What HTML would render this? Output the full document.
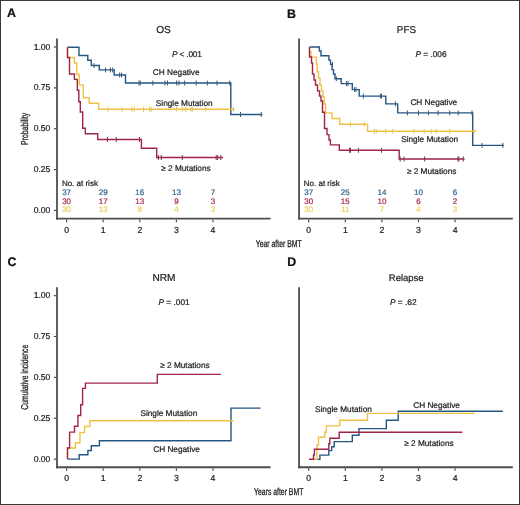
<!DOCTYPE html>
<html><head><meta charset="utf-8"><style>
html,body{margin:0;padding:0;background:#fff;}
body{width:520px;height:505px;overflow:hidden;}
svg{display:block;font-family:"Liberation Sans",sans-serif;text-rendering:geometricPrecision;will-change:transform;}
</style></head><body>
<svg width="520" height="505" viewBox="0 0 520 505">
<rect width="520" height="505" fill="#fff"/>
<rect x="0.5" y="0.5" width="519" height="504" fill="none" stroke="#3a3a3a" stroke-width="1"/>
<path d="M57,38.5V219.5" stroke="#4e4e4e" stroke-width="1.8" fill="none"/>
<path d="M56,218.6H270.6" stroke="#4e4e4e" stroke-width="1.8" fill="none"/>
<path d="M66.60,219.5V222.2" stroke="#4e4e4e" stroke-width="1.2" fill="none"/>
<text x="66.60" y="232.70" font-size="8.7" text-anchor="middle" font-weight="normal" fill="#222222" stroke="#222222" stroke-width="0.22" >0</text>
<path d="M103.20,219.5V222.2" stroke="#4e4e4e" stroke-width="1.2" fill="none"/>
<text x="103.20" y="232.70" font-size="8.7" text-anchor="middle" font-weight="normal" fill="#222222" stroke="#222222" stroke-width="0.22" >1</text>
<path d="M139.80,219.5V222.2" stroke="#4e4e4e" stroke-width="1.2" fill="none"/>
<text x="139.80" y="232.70" font-size="8.7" text-anchor="middle" font-weight="normal" fill="#222222" stroke="#222222" stroke-width="0.22" >2</text>
<path d="M176.40,219.5V222.2" stroke="#4e4e4e" stroke-width="1.2" fill="none"/>
<text x="176.40" y="232.70" font-size="8.7" text-anchor="middle" font-weight="normal" fill="#222222" stroke="#222222" stroke-width="0.22" >3</text>
<path d="M213.00,219.5V222.2" stroke="#4e4e4e" stroke-width="1.2" fill="none"/>
<text x="213.00" y="232.70" font-size="8.7" text-anchor="middle" font-weight="normal" fill="#222222" stroke="#222222" stroke-width="0.22" >4</text>
<path d="M53.8,47.00H56" stroke="#4e4e4e" stroke-width="1.2" fill="none"/>
<text x="50.4" y="49.50" font-size="8.6" text-anchor="end" font-weight="normal" fill="#222222" stroke="#222222" stroke-width="0.22" >1.00</text>
<path d="M53.8,87.87H56" stroke="#4e4e4e" stroke-width="1.2" fill="none"/>
<text x="50.4" y="90.37" font-size="8.6" text-anchor="end" font-weight="normal" fill="#222222" stroke="#222222" stroke-width="0.22" >0.75</text>
<path d="M53.8,128.74H56" stroke="#4e4e4e" stroke-width="1.2" fill="none"/>
<text x="50.4" y="131.24" font-size="8.6" text-anchor="end" font-weight="normal" fill="#222222" stroke="#222222" stroke-width="0.22" >0.50</text>
<path d="M53.8,169.61H56" stroke="#4e4e4e" stroke-width="1.2" fill="none"/>
<text x="50.4" y="172.11" font-size="8.6" text-anchor="end" font-weight="normal" fill="#222222" stroke="#222222" stroke-width="0.22" >0.25</text>
<path d="M53.8,210.48H56" stroke="#4e4e4e" stroke-width="1.2" fill="none"/>
<text x="50.4" y="212.98" font-size="8.6" text-anchor="end" font-weight="normal" fill="#222222" stroke="#222222" stroke-width="0.22" >0.00</text>
<text x="7.0" y="17.4" font-size="12.4" text-anchor="start" font-weight="bold" fill="#111" stroke="#111" stroke-width="0.22" >A</text>
<text x="156.2" y="32.6" font-size="10.1" text-anchor="start" font-weight="normal" fill="#222222" stroke="#222222" stroke-width="0.22" >OS</text>
<text x="172.1" y="57.1" font-size="8.3" text-anchor="start" font-weight="normal" fill="#222222" stroke="#222222" stroke-width="0.22" letter-spacing="-0.2"><tspan font-style="italic">P</tspan> &lt; .001</text>
<text x="152.8" y="74.5" font-size="8.25" text-anchor="start" font-weight="normal" fill="#222222" stroke="#222222" stroke-width="0.22" >CH Negative</text>
<text x="155.8" y="105.8" font-size="8.25" text-anchor="start" font-weight="normal" fill="#222222" stroke="#222222" stroke-width="0.22" >Single Mutation</text>
<text x="161.2" y="170.8" font-size="8.25" text-anchor="start" font-weight="normal" fill="#222222" stroke="#222222" stroke-width="0.22" >≥ 2 Mutations</text>
<text x="61.9" y="185.8" font-size="8" text-anchor="start" font-weight="normal" fill="#222222" stroke="#222222" stroke-width="0.22" >No. at risk</text>
<text x="66.60" y="195" font-size="8" text-anchor="middle" font-weight="normal" fill="#34668f" stroke="#34668f" stroke-width="0.22" >37</text>
<text x="103.20" y="195" font-size="8" text-anchor="middle" font-weight="normal" fill="#34668f" stroke="#34668f" stroke-width="0.22" >29</text>
<text x="139.80" y="195" font-size="8" text-anchor="middle" font-weight="normal" fill="#34668f" stroke="#34668f" stroke-width="0.22" >16</text>
<text x="176.40" y="195" font-size="8" text-anchor="middle" font-weight="normal" fill="#34668f" stroke="#34668f" stroke-width="0.22" >13</text>
<text x="213.00" y="195" font-size="8" text-anchor="middle" font-weight="normal" fill="#34668f" stroke="#34668f" stroke-width="0.22" >7</text>
<text x="66.60" y="203.5" font-size="8" text-anchor="middle" font-weight="normal" fill="#a82c4c" stroke="#a82c4c" stroke-width="0.22" >30</text>
<text x="103.20" y="203.5" font-size="8" text-anchor="middle" font-weight="normal" fill="#a82c4c" stroke="#a82c4c" stroke-width="0.22" >17</text>
<text x="139.80" y="203.5" font-size="8" text-anchor="middle" font-weight="normal" fill="#a82c4c" stroke="#a82c4c" stroke-width="0.22" >13</text>
<text x="176.40" y="203.5" font-size="8" text-anchor="middle" font-weight="normal" fill="#a82c4c" stroke="#a82c4c" stroke-width="0.22" >9</text>
<text x="213.00" y="203.5" font-size="8" text-anchor="middle" font-weight="normal" fill="#a82c4c" stroke="#a82c4c" stroke-width="0.22" >3</text>
<text x="66.60" y="211.9" font-size="8" text-anchor="middle" font-weight="normal" fill="#eccf5c" stroke="#eccf5c" stroke-width="0.22" >30</text>
<text x="103.20" y="211.9" font-size="8" text-anchor="middle" font-weight="normal" fill="#eccf5c" stroke="#eccf5c" stroke-width="0.22" >13</text>
<text x="139.80" y="211.9" font-size="8" text-anchor="middle" font-weight="normal" fill="#eccf5c" stroke="#eccf5c" stroke-width="0.22" >8</text>
<text x="176.40" y="211.9" font-size="8" text-anchor="middle" font-weight="normal" fill="#eccf5c" stroke="#eccf5c" stroke-width="0.22" >4</text>
<text x="213.00" y="211.9" font-size="8" text-anchor="middle" font-weight="normal" fill="#eccf5c" stroke="#eccf5c" stroke-width="0.22" >3</text>
<text transform="translate(27.9,128.9) rotate(-90) scale(0.685,1)" x="0" y="0" font-size="10" text-anchor="middle" fill="#222222" stroke="#222222" stroke-width="0.3">Probability</text>
<text transform="translate(278.7,246.6) scale(0.685,1)" x="0" y="0" font-size="10" text-anchor="middle" fill="#222222" stroke="#222222" stroke-width="0.3">Year after BMT</text>
<path d="M67.5,47.3H79V55.5H87.8V60.2H91.3V65.5H99.3V69.9H114.2V75H125.5V83H230.8V114.5H262.5" fill="none" stroke="#245684" stroke-width="1.4" stroke-linejoin="miter" stroke-linecap="butt"/>
<path d="M94.1,63.00V68.00" stroke="#3a5a7a" stroke-width="1.0" fill="none"/>
<path d="M105.5,67.40V72.40 M110.4,67.40V72.40 M112.7,67.40V72.40" stroke="#3a5a7a" stroke-width="1.0" fill="none"/>
<path d="M119.6,72.50V77.50 M121.5,72.50V77.50" stroke="#3a5a7a" stroke-width="1.0" fill="none"/>
<path d="M139,80.50V85.50 M140.2,80.50V85.50 M152.8,80.50V85.50 M165,80.50V85.50 M167.5,80.50V85.50 M176.6,80.50V85.50 M178.9,80.50V85.50 M184.6,80.50V85.50 M196.2,80.50V85.50 M207.3,80.50V85.50 M217,80.50V85.50 M229.7,80.50V85.50" stroke="#3a5a7a" stroke-width="1.0" fill="none"/>
<path d="M240.5,112.00V117.00 M261.2,112.00V117.00" stroke="#3a5a7a" stroke-width="1.0" fill="none"/>
<path d="M67.5,47.3V57.5H74.3V63H76.8V74.5H79.3V84.9H83.3V97.7H89.2V103.2H98.6V109.3H234.5" fill="none" stroke="#f0c244" stroke-width="1.4" stroke-linejoin="miter" stroke-linecap="butt"/>
<path d="M108,106.80V111.80 M121.9,106.80V111.80 M131.9,106.80V111.80 M134.2,106.80V111.80 M143.5,106.80V111.80 M149.6,106.80V111.80 M151.2,106.80V111.80 M176.6,106.80V111.80 M182.3,106.80V111.80 M185.8,106.80V111.80 M191.1,106.80V111.80 M192.7,106.80V111.80 M205.4,106.80V111.80 M233.5,106.80V111.80" stroke="#e6c258" stroke-width="1.0" fill="none"/>
<path d="M67.5,47.3V57.5H69.5V74H74.4V79.4H77.3V90.3H78.8V101.7H80.3V112H82.7V128.3H85.3V133.8H97.7V139.5H141.4V148.2H156.7V157.5H223" fill="none" stroke="#a02547" stroke-width="1.4" stroke-linejoin="miter" stroke-linecap="butt"/>
<path d="M107.4,137.00V142.00 M116.3,137.00V142.00 M139.4,137.00V142.00" stroke="#84304a" stroke-width="1.0" fill="none"/>
<path d="M158.4,155.00V160.00 M161.3,155.00V160.00 M182.3,155.00V160.00 M216.2,155.00V160.00 M217.7,155.00V160.00 M220.8,155.00V160.00" stroke="#84304a" stroke-width="1.0" fill="none"/>
<path d="M299.1,38.5V219.5" stroke="#4e4e4e" stroke-width="1.8" fill="none"/>
<path d="M298.1,218.6H512.8" stroke="#4e4e4e" stroke-width="1.8" fill="none"/>
<path d="M308.70,219.5V222.2" stroke="#4e4e4e" stroke-width="1.2" fill="none"/>
<text x="308.70" y="232.70" font-size="8.7" text-anchor="middle" font-weight="normal" fill="#222222" stroke="#222222" stroke-width="0.22" >0</text>
<path d="M345.30,219.5V222.2" stroke="#4e4e4e" stroke-width="1.2" fill="none"/>
<text x="345.30" y="232.70" font-size="8.7" text-anchor="middle" font-weight="normal" fill="#222222" stroke="#222222" stroke-width="0.22" >1</text>
<path d="M381.90,219.5V222.2" stroke="#4e4e4e" stroke-width="1.2" fill="none"/>
<text x="381.90" y="232.70" font-size="8.7" text-anchor="middle" font-weight="normal" fill="#222222" stroke="#222222" stroke-width="0.22" >2</text>
<path d="M418.50,219.5V222.2" stroke="#4e4e4e" stroke-width="1.2" fill="none"/>
<text x="418.50" y="232.70" font-size="8.7" text-anchor="middle" font-weight="normal" fill="#222222" stroke="#222222" stroke-width="0.22" >3</text>
<path d="M455.10,219.5V222.2" stroke="#4e4e4e" stroke-width="1.2" fill="none"/>
<text x="455.10" y="232.70" font-size="8.7" text-anchor="middle" font-weight="normal" fill="#222222" stroke="#222222" stroke-width="0.22" >4</text>
<text x="286.9" y="17.5" font-size="12.4" text-anchor="start" font-weight="bold" fill="#111" stroke="#111" stroke-width="0.22" >B</text>
<text x="396.8" y="32.8" font-size="9.9" text-anchor="start" font-weight="normal" fill="#222222" stroke="#222222" stroke-width="0.22" >PFS</text>
<text x="415.4" y="56.8" font-size="8.3" text-anchor="start" font-weight="normal" fill="#222222" stroke="#222222" stroke-width="0.22" ><tspan font-style="italic">P</tspan> = .006</text>
<text x="410.4" y="105" font-size="8.25" text-anchor="start" font-weight="normal" fill="#222222" stroke="#222222" stroke-width="0.22" >CH Negative</text>
<text x="401.2" y="141.5" font-size="8.25" text-anchor="start" font-weight="normal" fill="#222222" stroke="#222222" stroke-width="0.22" >Single Mutation</text>
<text x="406.9" y="173.5" font-size="8.25" text-anchor="start" font-weight="normal" fill="#222222" stroke="#222222" stroke-width="0.22" >≥ 2 Mutations</text>
<text x="303.8" y="185.8" font-size="8" text-anchor="start" font-weight="normal" fill="#222222" stroke="#222222" stroke-width="0.22" >No. at risk</text>
<text x="308.70" y="195" font-size="8" text-anchor="middle" font-weight="normal" fill="#34668f" stroke="#34668f" stroke-width="0.22" >37</text>
<text x="345.30" y="195" font-size="8" text-anchor="middle" font-weight="normal" fill="#34668f" stroke="#34668f" stroke-width="0.22" >25</text>
<text x="381.90" y="195" font-size="8" text-anchor="middle" font-weight="normal" fill="#34668f" stroke="#34668f" stroke-width="0.22" >14</text>
<text x="418.50" y="195" font-size="8" text-anchor="middle" font-weight="normal" fill="#34668f" stroke="#34668f" stroke-width="0.22" >10</text>
<text x="455.10" y="195" font-size="8" text-anchor="middle" font-weight="normal" fill="#34668f" stroke="#34668f" stroke-width="0.22" >6</text>
<text x="308.70" y="203.5" font-size="8" text-anchor="middle" font-weight="normal" fill="#a82c4c" stroke="#a82c4c" stroke-width="0.22" >30</text>
<text x="345.30" y="203.5" font-size="8" text-anchor="middle" font-weight="normal" fill="#a82c4c" stroke="#a82c4c" stroke-width="0.22" >15</text>
<text x="381.90" y="203.5" font-size="8" text-anchor="middle" font-weight="normal" fill="#a82c4c" stroke="#a82c4c" stroke-width="0.22" >10</text>
<text x="418.50" y="203.5" font-size="8" text-anchor="middle" font-weight="normal" fill="#a82c4c" stroke="#a82c4c" stroke-width="0.22" >6</text>
<text x="455.10" y="203.5" font-size="8" text-anchor="middle" font-weight="normal" fill="#a82c4c" stroke="#a82c4c" stroke-width="0.22" >2</text>
<text x="308.70" y="211.9" font-size="8" text-anchor="middle" font-weight="normal" fill="#eccf5c" stroke="#eccf5c" stroke-width="0.22" >30</text>
<text x="345.30" y="211.9" font-size="8" text-anchor="middle" font-weight="normal" fill="#eccf5c" stroke="#eccf5c" stroke-width="0.22" >11</text>
<text x="381.90" y="211.9" font-size="8" text-anchor="middle" font-weight="normal" fill="#eccf5c" stroke="#eccf5c" stroke-width="0.22" >7</text>
<text x="418.50" y="211.9" font-size="8" text-anchor="middle" font-weight="normal" fill="#eccf5c" stroke="#eccf5c" stroke-width="0.22" >4</text>
<text x="455.10" y="211.9" font-size="8" text-anchor="middle" font-weight="normal" fill="#eccf5c" stroke="#eccf5c" stroke-width="0.22" >3</text>
<path d="M309.5,47H319.4V51H321V55.7H328.9V60.1H330.5V64.4H332V69.6H333.5V74H335V78.7H341.2V83.6H352.3V89.6H359.2V96.1H385.8V103.9H397.7V112.9H472.7V145.4H504" fill="none" stroke="#245684" stroke-width="1.4" stroke-linejoin="miter" stroke-linecap="butt"/>
<path d="M332.5,61.90V66.90" stroke="#3a5a7a" stroke-width="1.0" fill="none"/>
<path d="M336.3,76.20V81.20" stroke="#3a5a7a" stroke-width="1.0" fill="none"/>
<path d="M346.5,81.10V86.10 M348,81.10V86.10" stroke="#3a5a7a" stroke-width="1.0" fill="none"/>
<path d="M354.6,87.10V92.10 M356,87.10V92.10" stroke="#3a5a7a" stroke-width="1.0" fill="none"/>
<path d="M363.4,93.60V98.60 M380.3,93.60V98.60 M381.5,93.60V98.60" stroke="#3a5a7a" stroke-width="1.0" fill="none"/>
<path d="M395.4,101.40V106.40" stroke="#3a5a7a" stroke-width="1.0" fill="none"/>
<path d="M407.4,110.40V115.40 M418.5,110.40V115.40 M428.4,110.40V115.40 M438.1,110.40V115.40 M449.7,110.40V115.40 M458.2,110.40V115.40 M472,110.40V115.40" stroke="#3a5a7a" stroke-width="1.0" fill="none"/>
<path d="M482,142.90V147.90 M502.8,142.90V147.90" stroke="#3a5a7a" stroke-width="1.0" fill="none"/>
<path d="M309.5,47V52H311V57.1H316.4V64H317.2V71.8H318.5V78H320V85.2H321.5V91H323V96.8H324.1V104H325.5V112.9H332.1V118.5H339.7V124.3H367.6V131.3H476.2" fill="none" stroke="#f0c244" stroke-width="1.4" stroke-linejoin="miter" stroke-linecap="butt"/>
<path d="M350.4,121.80V126.80 M364.2,121.80V126.80" stroke="#e6c258" stroke-width="1.0" fill="none"/>
<path d="M374.2,128.80V133.80 M376.2,128.80V133.80 M385.8,128.80V133.80 M392.7,128.80V133.80 M413.9,128.80V133.80 M424.2,128.80V133.80 M431.2,128.80V133.80 M436.3,128.80V133.80 M449.7,128.80V133.80 M473.9,128.80V133.80" stroke="#e6c258" stroke-width="1.0" fill="none"/>
<path d="M309.5,47V57H311.5V63H312.5V74.1H314V80H315.5V85H317.5V90.9H319.5V96H321V101H322.5V112.3H324.5V128.5H327V134.6H329V140H330.4V144.9H339.3V150.3H399.2V159H464.6" fill="none" stroke="#a02547" stroke-width="1.4" stroke-linejoin="miter" stroke-linecap="butt"/>
<path d="M349.6,147.80V152.80 M350.5,147.80V152.80 M358.4,147.80V152.80 M381.5,147.80V152.80" stroke="#84304a" stroke-width="1.0" fill="none"/>
<path d="M400.2,156.50V161.50 M404,156.50V161.50 M424.6,156.50V161.50 M457.9,156.50V161.50 M458.8,156.50V161.50 M463.3,156.50V161.50" stroke="#84304a" stroke-width="1.0" fill="none"/>
<path d="M57,287.15V468.15" stroke="#4e4e4e" stroke-width="1.8" fill="none"/>
<path d="M56,467.25H270.6" stroke="#4e4e4e" stroke-width="1.8" fill="none"/>
<path d="M66.60,468.15V470.85" stroke="#4e4e4e" stroke-width="1.2" fill="none"/>
<text x="66.60" y="481.35" font-size="8.7" text-anchor="middle" font-weight="normal" fill="#222222" stroke="#222222" stroke-width="0.22" >0</text>
<path d="M103.20,468.15V470.85" stroke="#4e4e4e" stroke-width="1.2" fill="none"/>
<text x="103.20" y="481.35" font-size="8.7" text-anchor="middle" font-weight="normal" fill="#222222" stroke="#222222" stroke-width="0.22" >1</text>
<path d="M139.80,468.15V470.85" stroke="#4e4e4e" stroke-width="1.2" fill="none"/>
<text x="139.80" y="481.35" font-size="8.7" text-anchor="middle" font-weight="normal" fill="#222222" stroke="#222222" stroke-width="0.22" >2</text>
<path d="M176.40,468.15V470.85" stroke="#4e4e4e" stroke-width="1.2" fill="none"/>
<text x="176.40" y="481.35" font-size="8.7" text-anchor="middle" font-weight="normal" fill="#222222" stroke="#222222" stroke-width="0.22" >3</text>
<path d="M213.00,468.15V470.85" stroke="#4e4e4e" stroke-width="1.2" fill="none"/>
<text x="213.00" y="481.35" font-size="8.7" text-anchor="middle" font-weight="normal" fill="#222222" stroke="#222222" stroke-width="0.22" >4</text>
<path d="M53.8,295.65H56" stroke="#4e4e4e" stroke-width="1.2" fill="none"/>
<text x="50.4" y="298.15" font-size="8.6" text-anchor="end" font-weight="normal" fill="#222222" stroke="#222222" stroke-width="0.22" >1.00</text>
<path d="M53.8,336.52H56" stroke="#4e4e4e" stroke-width="1.2" fill="none"/>
<text x="50.4" y="339.02" font-size="8.6" text-anchor="end" font-weight="normal" fill="#222222" stroke="#222222" stroke-width="0.22" >0.75</text>
<path d="M53.8,377.39H56" stroke="#4e4e4e" stroke-width="1.2" fill="none"/>
<text x="50.4" y="379.89" font-size="8.6" text-anchor="end" font-weight="normal" fill="#222222" stroke="#222222" stroke-width="0.22" >0.50</text>
<path d="M53.8,418.26H56" stroke="#4e4e4e" stroke-width="1.2" fill="none"/>
<text x="50.4" y="420.76" font-size="8.6" text-anchor="end" font-weight="normal" fill="#222222" stroke="#222222" stroke-width="0.22" >0.25</text>
<path d="M53.8,459.13H56" stroke="#4e4e4e" stroke-width="1.2" fill="none"/>
<text x="50.4" y="461.63" font-size="8.6" text-anchor="end" font-weight="normal" fill="#222222" stroke="#222222" stroke-width="0.22" >0.00</text>
<text x="7.5" y="265.9" font-size="12.4" text-anchor="start" font-weight="bold" fill="#111" stroke="#111" stroke-width="0.22" >C</text>
<text x="152.4" y="281.2" font-size="10.1" text-anchor="start" font-weight="normal" fill="#222222" stroke="#222222" stroke-width="0.22" >NRM</text>
<text x="158.5" y="304.7" font-size="8.3" text-anchor="start" font-weight="normal" fill="#222222" stroke="#222222" stroke-width="0.22" ><tspan font-style="italic">P</tspan> = .001</text>
<text x="160.2" y="368.3" font-size="8.25" text-anchor="start" font-weight="normal" fill="#222222" stroke="#222222" stroke-width="0.22" >≥ 2 Mutations</text>
<text x="140.4" y="415.7" font-size="8.25" text-anchor="start" font-weight="normal" fill="#222222" stroke="#222222" stroke-width="0.22" >Single Mutation</text>
<text x="153.2" y="452.3" font-size="8.25" text-anchor="start" font-weight="normal" fill="#222222" stroke="#222222" stroke-width="0.22" >CH Negative</text>
<text transform="translate(27.8,377.2) rotate(-90) scale(0.685,1)" x="0" y="0" font-size="10" text-anchor="middle" fill="#222222" stroke="#222222" stroke-width="0.3">Cumulative incidence</text>
<text transform="translate(278.7,495.3) scale(0.685,1)" x="0" y="0" font-size="10" text-anchor="middle" fill="#222222" stroke="#222222" stroke-width="0.3">Years after BMT</text>
<path d="M67.5,459.1H79.2V454.8H87.9V450.5H91.3V445.7H99.4V440.8H231V408.1H260.6" fill="none" stroke="#245684" stroke-width="1.4" stroke-linejoin="miter" stroke-linecap="butt"/>
<path d="M67.5,459.1V448H75.4V442.8H80V432.6H84.5V426.5H89.8V420.8H233.5" fill="none" stroke="#f0c244" stroke-width="1.4" stroke-linejoin="miter" stroke-linecap="butt"/>
<path d="M67.5,459.1V448H69.6V432.1H74.5V426.3H77.9V415.5H80.7V404.8H82.6V388.4H85.4V383.1H157.3V374.4H220.8" fill="none" stroke="#a02547" stroke-width="1.4" stroke-linejoin="miter" stroke-linecap="butt"/>
<path d="M299.1,287.15V468.15" stroke="#4e4e4e" stroke-width="1.8" fill="none"/>
<path d="M298.1,467.25H512.8" stroke="#4e4e4e" stroke-width="1.8" fill="none"/>
<path d="M308.70,468.15V470.85" stroke="#4e4e4e" stroke-width="1.2" fill="none"/>
<text x="308.70" y="481.35" font-size="8.7" text-anchor="middle" font-weight="normal" fill="#222222" stroke="#222222" stroke-width="0.22" >0</text>
<path d="M345.30,468.15V470.85" stroke="#4e4e4e" stroke-width="1.2" fill="none"/>
<text x="345.30" y="481.35" font-size="8.7" text-anchor="middle" font-weight="normal" fill="#222222" stroke="#222222" stroke-width="0.22" >1</text>
<path d="M381.90,468.15V470.85" stroke="#4e4e4e" stroke-width="1.2" fill="none"/>
<text x="381.90" y="481.35" font-size="8.7" text-anchor="middle" font-weight="normal" fill="#222222" stroke="#222222" stroke-width="0.22" >2</text>
<path d="M418.50,468.15V470.85" stroke="#4e4e4e" stroke-width="1.2" fill="none"/>
<text x="418.50" y="481.35" font-size="8.7" text-anchor="middle" font-weight="normal" fill="#222222" stroke="#222222" stroke-width="0.22" >3</text>
<path d="M455.10,468.15V470.85" stroke="#4e4e4e" stroke-width="1.2" fill="none"/>
<text x="455.10" y="481.35" font-size="8.7" text-anchor="middle" font-weight="normal" fill="#222222" stroke="#222222" stroke-width="0.22" >4</text>
<text x="287.2" y="265.9" font-size="12.4" text-anchor="start" font-weight="bold" fill="#111" stroke="#111" stroke-width="0.22" >D</text>
<text x="388.8" y="281.2" font-size="9.5" text-anchor="start" font-weight="normal" fill="#222222" stroke="#222222" stroke-width="0.22" >Relapse</text>
<text x="390" y="304.7" font-size="8.3" text-anchor="start" font-weight="normal" fill="#222222" stroke="#222222" stroke-width="0.22" ><tspan font-style="italic">P</tspan> = .62</text>
<text x="315" y="411.6" font-size="8.25" text-anchor="start" font-weight="normal" fill="#222222" stroke="#222222" stroke-width="0.22" >Single Mutation</text>
<text x="413.2" y="407.7" font-size="8.25" text-anchor="start" font-weight="normal" fill="#222222" stroke="#222222" stroke-width="0.22" >CH Negative</text>
<text x="404.2" y="445.8" font-size="8.25" text-anchor="start" font-weight="normal" fill="#222222" stroke="#222222" stroke-width="0.22" >≥ 2 Mutations</text>
<path d="M309,459.4H319.9V455.1H328.8V450.6H331.7V446.7H334.2V441.6H352.3V435.2H359V428.6H386.3V420.2H398.2V411.2H502.8" fill="none" stroke="#245684" stroke-width="1.4" stroke-linejoin="miter" stroke-linecap="butt"/>
<path d="M309,459.4H316.9V445H318.5V437.3H324.8V432.3H326.3V425.9H339.7V420.2H367.5V413.4H475" fill="none" stroke="#f0c244" stroke-width="1.4" stroke-linejoin="miter" stroke-linecap="butt"/>
<path d="M309,459.4H313.5V455H314.4V449.2H328.8V443.7H329.8V438.3H339.2V432.3H462.4" fill="none" stroke="#a02547" stroke-width="1.4" stroke-linejoin="miter" stroke-linecap="butt"/>
</svg>
</body></html>
